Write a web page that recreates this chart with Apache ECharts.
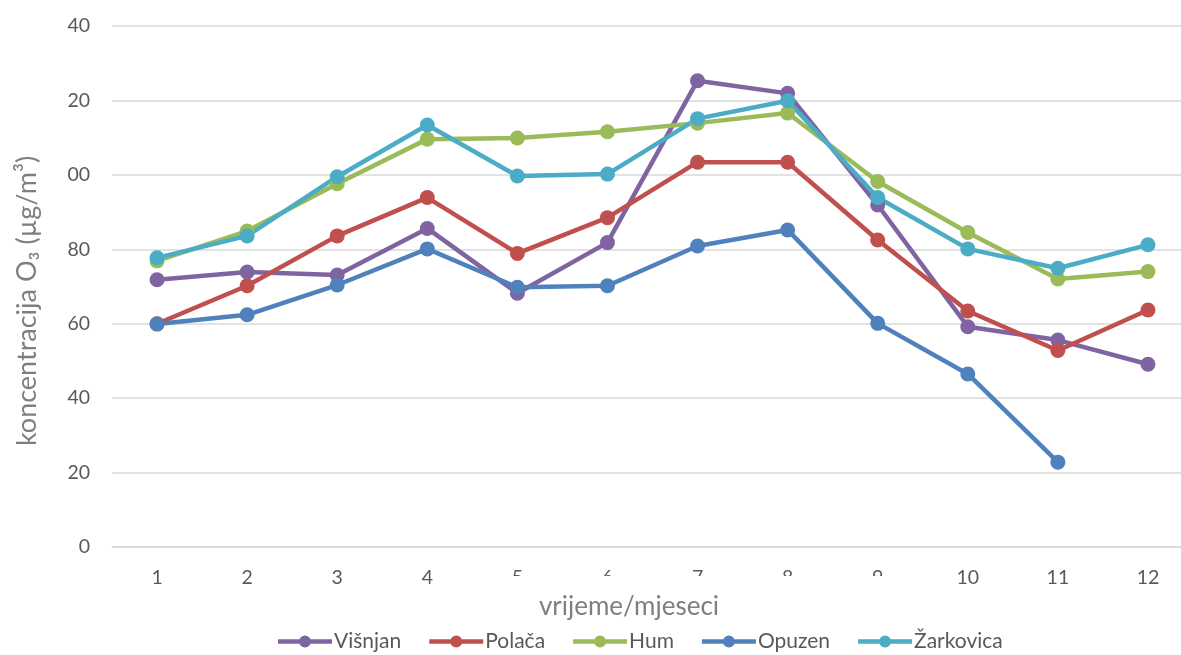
<!DOCTYPE html>
<html>
<head>
<meta charset="utf-8">
<script src="https://cdn.jsdelivr.net/npm/echarts@6/dist/echarts.min.js"></script>
<style>html,body{margin:0;padding:0;background:#fff}#c{width:1181px;height:655px}</style>
</head>
<body>
<div id="c"></div>
<script>
const months = ['1','2','3','4','5','6','7','8','9','10','11','12'];
const yTickLabels = {0:'0',20:'20',40:'40',60:'60',80:'80',100:'00',120:'20',140:'40'};
const visnjan = [71.8, 73.9, 73.1, 85.6, 68.2, 81.8, 125.3, 121.9, 91.9, 59.2, 55.6, 49.1];
const polaca  = [60.0, 70.2, 83.6, 93.9, 78.9, 88.5, 103.4, 103.4, 82.5, 63.4, 52.8, 63.7];
const hum     = [76.9, 84.9, 97.6, 109.6, 109.9, 111.6, 113.9, 116.6, 98.2, 84.5, 72.0, 74.0];
const opuzen  = [59.9, 62.4, 70.4, 80.1, 69.8, 70.2, 80.9, 85.2, 60.1, 46.5, 22.8, null];
const zarkovica = [77.7, 83.6, 99.5, 113.4, 99.7, 100.2, 115.1, 119.9, 93.9, 80.1, 74.9, 81.2];

const names = ['Višnjan','Polača','Hum','Opuzen','Žarkovica'];
const colors = ['#8064A2','#C0504D','#9BBB59','#4F81BD','#4BACC6'];
const data = [visnjan, polaca, hum, opuzen, zarkovica];
const FONT = 'Lato';
const legendIcon = 'path://M0,3.75 L54,3.75 L54,8.25 L0,8.25 Z M21,6 A6,6 0 1 1 33,6 A6,6 0 1 1 21,6 Z';

const chart = echarts.init(document.getElementById('c'));
chart.setOption({
  animation: false,
  textStyle: {fontFamily: FONT},
  color: colors,
  grid: {left: 112, width: 1081, top: 26, bottom: 108, containLabel: false, outerBoundsMode: 'none'},
  xAxis: {
    type: 'category', data: months, boundaryGap: true,
    axisLine: {show: true, lineStyle: {color: '#d9d9d9', width: 1.5}},
    axisTick: {show: false},
    axisLabel: {color: '#595959', fontSize: 19.5, fontFamily: FONT, margin: 21}
  },
  yAxis: {
    type: 'value', min: 0, max: 140, interval: 20,
    axisLine: {show: false}, axisTick: {show: false},
    splitLine: {lineStyle: {color: '#d9d9d9', width: 1.5}},
    axisLabel: {color: '#595959', fontSize: 19.5, fontFamily: FONT, margin: 22,
      formatter: v => yTickLabels[v]}
  },
  legend: {
    top: 626, left: 273, itemWidth: 54, itemHeight: 12, itemGap: 28,
    icon: legendIcon,
    textStyle: {color: '#595959', fontSize: 21, fontFamily: FONT, padding: [0,0,0,-3]},
    data: names
  },
  graphic: [
    {type: 'rect', z: 100, shape: {x: 480, y: 576, width: 420, height: 16}, style: {fill: '#fff'}},
    {type: 'text', z: 101, x: 629, y: 607, style: {text: 'vrijeme/mjeseci', fill: '#7f7f7f', font: '26px ' + FONT, textAlign: 'center', textVerticalAlign: 'middle'}},
    {type: 'text', z: 101, x: 27, y: 301, rotation: Math.PI / 2, style: {text: 'koncentracija O₃ (µg/m³)', fill: '#7f7f7f', font: '27px ' + FONT, textAlign: 'center', textVerticalAlign: 'middle'}}
  ],
  series: names.map((n, i) => ({
    name: n, type: 'line', data: data[i], symbol: 'circle', symbolSize: 15,
    lineStyle: {width: 4.5, color: colors[i]}, itemStyle: {color: colors[i]},
    connectNulls: false
  }))
});
</script>
</body>
</html>
